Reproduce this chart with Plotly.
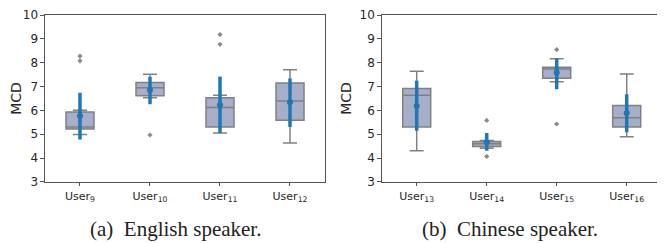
import plotly.graph_objects as go

# ---- data ----
users_a = ["User<sub>9</sub>", "User<sub>10</sub>", "User<sub>11</sub>", "User<sub>12</sub>"]
q1_a = [5.22, 6.62, 5.30, 5.59]
med_a = [5.30, 6.95, 6.12, 6.39]
q3_a = [5.93, 7.17, 6.53, 7.15]
lo_a = [4.99, 6.53, 5.05, 4.63]
hi_a = [6.01, 7.52, 6.64, 7.71]
mean_a = [5.77, 6.86, 6.23, 6.34]
errlo_a = [4.78, 6.26, 5.05, 5.31]
errhi_a = [6.74, 7.41, 7.42, 7.34]
out_x_a = [0, 0, 1, 2, 2]
out_y_a = [8.28, 8.08, 4.97, 9.18, 8.77]

users_b = ["User<sub>13</sub>", "User<sub>14</sub>", "User<sub>15</sub>", "User<sub>16</sub>"]
q1_b = [5.30, 4.49, 7.35, 5.30]
med_b = [6.64, 4.60, 7.74, 5.69]
q3_b = [6.92, 4.70, 7.81, 6.21]
lo_b = [4.31, 4.41, 7.20, 4.90]
hi_b = [7.64, 4.74, 8.17, 7.53]
mean_b = [6.19, 4.67, 7.59, 5.89]
errlo_b = [5.15, 4.31, 6.89, 5.08]
errhi_b = [7.24, 5.05, 8.18, 6.68]
out_x_b = [1, 1, 2, 2]
out_y_b = [5.58, 4.07, 8.55, 5.43]

captions = ["(a)  English speaker.", "(b)  Chinese speaker."]
yticks = [3, 4, 5, 6, 7, 8, 9, 10]

BOX_FILL = "#a6aec9"
BOX_LINE = "#808080"
BLUE = "#1f77b4"

fig = go.Figure()

panels = [
    (users_a, q1_a, med_a, q3_a, lo_a, hi_a, mean_a, errlo_a, errhi_a, out_x_a, out_y_a, "x", "y"),
    (users_b, q1_b, med_b, q3_b, lo_b, hi_b, mean_b, errlo_b, errhi_b, out_x_b, out_y_b, "x2", "y2"),
]

for (users, q1, med, q3, lo, hi, mean, elo, ehi, ox, oy, xa, ya) in panels:
    xs = list(range(len(users)))
    fig.add_trace(go.Box(
        x=xs, q1=q1, median=med, q3=q3, lowerfence=lo, upperfence=hi,
        width=0.4, whiskerwidth=0.5, fillcolor=BOX_FILL,
        line=dict(color=BOX_LINE, width=1.5), boxpoints=False,
        showlegend=False, xaxis=xa, yaxis=ya,
    ))
    fig.add_trace(go.Scatter(
        x=ox, y=oy, mode="markers",
        marker=dict(symbol="diamond", size=4, color="#8a8a8a"),
        showlegend=False, xaxis=xa, yaxis=ya,
    ))
    fig.add_trace(go.Scatter(
        x=xs, y=mean, mode="markers",
        marker=dict(size=6, color=BLUE),
        error_y=dict(type="data", symmetric=False,
                     array=[h - m for h, m in zip(ehi, mean)],
                     arrayminus=[m - l for m, l in zip(mean, elo)],
                     color=BLUE, thickness=3.5, width=0),
        showlegend=False, xaxis=xa, yaxis=ya,
    ))

axis_common = dict(showline=True, linecolor="#555555", linewidth=1, mirror=True,
                   showgrid=False, zeroline=False, ticks="outside", ticklen=3.5,
                   tickcolor="#555555", automargin=False,
                   tickfont=dict(family="DejaVu Sans", size=11, color="#262626"))

yaxis_common = dict(axis_common, range=[3, 10], tickvals=yticks,
                    tickfont=dict(family="DejaVu Sans", size=12, color="#262626"),
                    title=dict(text="MCD", font=dict(family="DejaVu Sans", size=14, color="#262626"),
                               standoff=4))

# page body has an 8px default margin, so the figure is 8px smaller each way
fig.update_layout(
    width=657, height=235,
    margin=dict(l=0, r=0, t=0, b=0, autoexpand=False),
    paper_bgcolor="white", plot_bgcolor="white",
    xaxis=dict(axis_common, domain=[0.0563, 0.4825], range=[-0.5, 3.5],
               tickvals=[0, 1, 2, 3], ticktext=users_a, anchor="y"),
    yaxis=dict(yaxis_common, domain=[0.2596, 0.9702], anchor="x"),
    xaxis2=dict(axis_common, domain=[0.5688, 0.995], range=[-0.5, 3.5],
                tickvals=[0, 1, 2, 3], ticktext=users_b, anchor="y2"),
    yaxis2=dict(yaxis_common, domain=[0.2596, 0.9702], anchor="x2"),
    annotations=[
        dict(text=captions[0], x=0.2557, y=0.06, xref="paper", yref="paper",
             xanchor="center", yanchor="middle",
             showarrow=False, font=dict(family="Liberation Serif", size=21, color="#222222")),
        dict(text=captions[1], x=0.764, y=0.06, xref="paper", yref="paper",
             xanchor="center", yanchor="middle",
             showarrow=False, font=dict(family="Liberation Serif", size=21, color="#222222")),
    ],
)

fig.write_html("out.html")
